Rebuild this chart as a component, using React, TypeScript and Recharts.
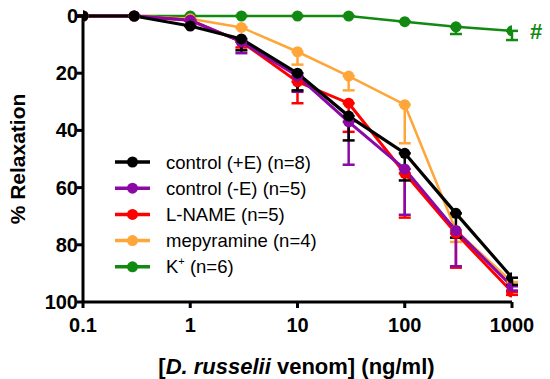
import { ComposedChart, Line, XAxis, YAxis, ErrorBar, Label } from 'recharts';

const concentrations = [0.1, 0.3, 1, 3, 10, 30, 100, 300, 1000];

const controlPlusE = [0, 0, 3.5, 8, 20, 35, 48, 69, 91.5];
const controlPlusEErr = [0, 0, 0, 4, 6, 8.5, 9.5, 8.5, 2.5];
const controlMinusE = [0, 0, 1.5, 9, 21, 37, 53.5, 75, 94.5];
const controlMinusEErr = [0, 0, 0, 4, 5.5, 15, 16, 12.5, 1.5];
const lName = [0, 0, 1.5, 9, 23, 30.5, 55, 76, 96.5];
const lNameErr = [0, 0, 0, 2, 7.5, 10, 15.5, 12, 1];
const mepyramine = [0, 0, 1, 4, 12.5, 21, 31, 75, 93];
const mepyramineErr = [0, 0, 0, 0, 4.5, 5, 13.5, 4, 1];
const kPlus = [0, 0, 0, 0, 0, 0, 2, 3.8, 5.2];
const kPlusErr = [0, 0, 0, 0, 0, 0, 0, 2.5, 3.2];

const xTicks = [0.1, 1, 10, 100, 1000];
const yTicks = [0, 20, 40, 60, 80, 100];

// legend order (top to bottom)
const series = [
  { key: 'ctrlPlus', name: 'control (+E) (n=8)', color: '#000000', values: controlPlusE, err: controlPlusEErr, width: 3.2 },
  { key: 'ctrlMinus', name: 'control (-E) (n=5)', color: '#8B0AA5', values: controlMinusE, err: controlMinusEErr, width: 3 },
  { key: 'lname', name: 'L-NAME (n=5)', color: '#FF0000', values: lName, err: lNameErr, width: 3 },
  { key: 'mepy', name: 'mepyramine (n=4)', color: '#FFA63B', values: mepyramine, err: mepyramineErr, width: 2.5 },
  { key: 'kplus', name: 'K+ (n=6)', color: '#128A12', values: kPlus, err: kPlusErr, width: 2.5 },
];

const data = concentrations.map((c, i) => {
  const row: any = { conc: c };
  series.forEach(s => {
    row[s.key] = s.values[i];
    row[s.key + 'Err'] = [0, s.err[i]];
  });
  return row;
});

const font = '"Liberation Sans", Arial, sans-serif';

const XTick = ({ x, y, payload }: any) => (
  <text x={x} y={y + 22} textAnchor="middle" fontSize={20} fontWeight={700} fontFamily={font} fill="#000">
    {String(payload.value)}
  </text>
);

const YTick = ({ x, y, payload }: any) => (
  <text x={x + 3} y={y + 7} textAnchor="end" fontSize={20} fontWeight={700} fontFamily={font} fill="#000">
    {payload.value}
  </text>
);

export default function App() {
  // draw green first so black ends on top
  const drawOrder = [...series].reverse();

  return (
    <div style={{ position: 'absolute', left: 0, top: 0, width: 550, height: 379, background: '#fff', fontFamily: font }}>
      <ComposedChart width={550} height={379} data={data} margin={{ top: 16, right: 38, bottom: 0, left: 23 }}>
        <XAxis
          dataKey="conc"
          type="number"
          scale="log"
          domain={[0.1, 1000]}
          ticks={xTicks}
          allowDataOverflow
          height={77}
          stroke="#000"
          strokeWidth={3}
          tickSize={6}
          tickLine={{ stroke: '#000', strokeWidth: 3 }}
          tick={<XTick />}
        >
          <Label
            position="insideBottom"
            content={({ viewBox }: any) => (
              <text
                x={viewBox.x + viewBox.width / 2 - 1}
                y={viewBox.y + 72}
                textAnchor="middle"
                fontSize={22}
                fontWeight={700}
                fontFamily={font}
                fill="#000"
              >
                [<tspan fontStyle="italic">D. russelii</tspan> venom] (ng/ml)
              </text>
            )}
          />
        </XAxis>
        <YAxis
          type="number"
          reversed
          domain={[0, 100]}
          ticks={yTicks}
          width={60}
          stroke="#000"
          strokeWidth={3}
          tickSize={6}
          tickLine={{ stroke: '#000', strokeWidth: 3 }}
          tick={<YTick />}
        >
          <Label
            position="insideLeft"
            content={({ viewBox }: any) => {
              const cx = 25;
              const cy = viewBox.y + viewBox.height / 2;
              return (
                <text
                  x={cx}
                  y={cy}
                  transform={`rotate(-90 ${cx} ${cy})`}
                  textAnchor="middle"
                  fontSize={21}
                  fontWeight={700}
                  fontFamily={font}
                  fill="#000"
                >
                  % Relaxation
                </text>
              );
            }}
          />
        </YAxis>
        {drawOrder.map(s => (
          <Line
            key={s.key}
            dataKey={s.key}
            stroke={s.color}
            strokeWidth={s.width}
            dot={{ r: 5.5, fill: s.color, stroke: s.color, strokeWidth: 0 }}
            activeDot={false}
            isAnimationActive={false}
          >
            <ErrorBar dataKey={s.key + 'Err'} direction="y" stroke={s.color} strokeWidth={2.5} width={6} />
          </Line>
        ))}
        <text x={530} y={39} fill="#128A12" fontSize={22} fontWeight={700} fontFamily={font}>#</text>
        <g>
          {series.map((s, i) => {
            const y = 162 + i * 26.2;
            return (
              <g key={s.key}>
                <line x1={115} x2={150} y1={y} y2={y} stroke={s.color} strokeWidth={3.5} />
                <circle cx={132.5} cy={y} r={5.5} fill={s.color} />
                <text x={166} y={y + 6.5} fontSize={18.5} fontFamily={font} fill="#000">
                  {s.key === 'kplus' ? (
                    <>
                      K<tspan fontSize={11} dy={-8}>+</tspan>
                      <tspan dy={8}> (n=6)</tspan>
                    </>
                  ) : (
                    s.name
                  )}
                </text>
              </g>
            );
          })}
        </g>
      </ComposedChart>
    </div>
  );
}
